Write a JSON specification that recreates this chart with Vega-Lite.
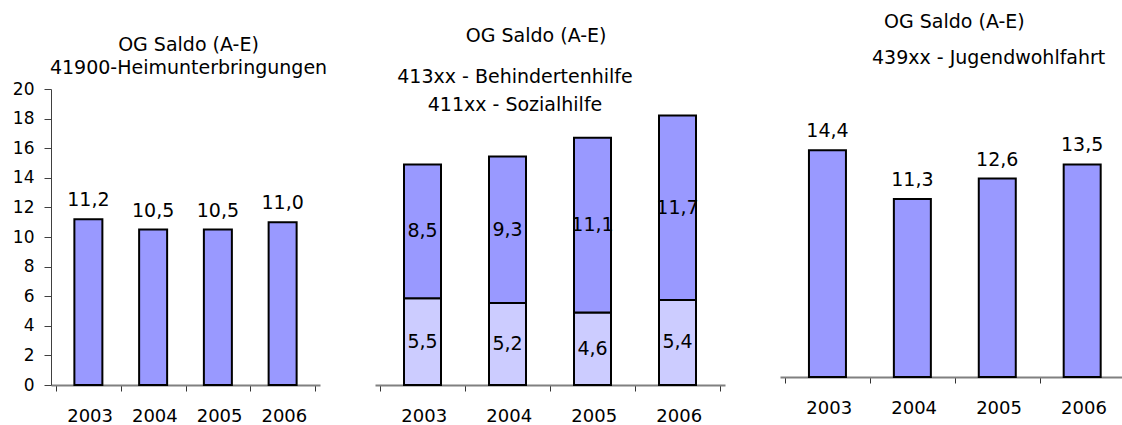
{
  "$schema": "https://vega.github.io/schema/vega-lite/v6.json",
  "background": "white",
  "padding": {"left": 12, "top": 13, "right": 0, "bottom": 0},
  "bounds": "flush",
  "align": "each",
  "spacing": 55,
  "config": {
    "font": "DejaVu Sans",
    "view": {"stroke": null},
    "locale": {"number": {"decimal": ",", "thousands": ".", "grouping": [3], "currency": ["", " €"]}},
    "axis": {"labelColor": "black", "grid": false, "title": null}
  },
  "datasets": {
    "heim": [
      {"year": 2003, "value": 11.2},
      {"year": 2004, "value": 10.5},
      {"year": 2005, "value": 10.5},
      {"year": 2006, "value": 11.0}
    ],
    "soz": [
      {"year": 2003, "part": "411xx - Sozialhilfe", "value": 5.5},
      {"year": 2003, "part": "413xx - Behindertenhilfe", "value": 8.5},
      {"year": 2004, "part": "411xx - Sozialhilfe", "value": 5.2},
      {"year": 2004, "part": "413xx - Behindertenhilfe", "value": 9.3},
      {"year": 2005, "part": "411xx - Sozialhilfe", "value": 4.6},
      {"year": 2005, "part": "413xx - Behindertenhilfe", "value": 11.1},
      {"year": 2006, "part": "411xx - Sozialhilfe", "value": 5.4},
      {"year": 2006, "part": "413xx - Behindertenhilfe", "value": 11.7}
    ],
    "jugend": [
      {"year": 2003, "value": 14.4},
      {"year": 2004, "value": 11.3},
      {"year": 2005, "value": 12.6},
      {"year": 2006, "value": 13.5}
    ]
  },
  "hconcat": [
    {
      "width": 269,
      "height": 296,
      "title": {
        "text": "OG Saldo (A-E)",
        "subtitle": "41900-Heimunterbringungen",
        "frame": "group",
        "anchor": "middle",
        "dx": 3,
        "offset": 2,
        "fontSize": 19,
        "fontWeight": "normal",
        "color": "black",
        "subtitleFontSize": 19,
        "subtitleColor": "black",
        "subtitlePadding": 4
      },
      "data": {"name": "heim"},
      "encoding": {
        "x": {
          "field": "year", "type": "quantitative",
          "scale": {"domain": [2002.5, 2006.5], "nice": false, "zero": false},
          "axis": {
            "values": [2002.5, 2003.5, 2004.5, 2005.5, 2006.5],
            "labelExpr": "datum.value < 2006 ? '' + (datum.value + 0.5) : ''",
            "labelOffset": 33.6,
            "labelFlush": false,
            "labelOverlap": false,
            "labelFontSize": 18,
            "labelPadding": 16,
            "domainColor": "#808080",
            "domainWidth": 2,
            "tickColor": "#333333",
            "tickSize": 6,
            "tickWidth": 1
          }
        },
        "y": {
          "field": "value", "type": "quantitative",
          "scale": {"domain": [0, 20], "nice": false},
          "axis": {
            "values": [0, 2, 4, 6, 8, 10, 12, 14, 16, 18, 20],
            "format": "d",
            "labelFontSize": 17,
            "labelPadding": 10,
            "labelFlush": false,
            "labelOverlap": false,
            "domainColor": "#404040",
            "domainWidth": 1,
            "tickColor": "#404040",
            "tickSize": 7
          }
        }
      },
      "layer": [
        {
          "mark": {"type": "bar", "width": 28, "fill": "#9999FF", "stroke": "black", "strokeWidth": 2}
        },
        {
          "mark": {"type": "text", "baseline": "alphabetic", "dy": -13, "fontSize": 19, "color": "black"},
          "encoding": {
            "text": {"field": "value", "type": "quantitative", "format": ".1f"}
          }
        }
      ]
    },
    {
      "width": 350,
      "height": 296,
      "title": {
        "text": "\u200b\u00a0\u00a0\u00a0\u00a0\u00a0\u00a0\u00a0OG Saldo (A-E)",
        "subtitle": ["413xx - Behindertenhilfe", "411xx - Sozialhilfe"],
        "frame": "group",
        "anchor": "middle",
        "dx": -35,
        "offset": -26,
        "fontSize": 19,
        "fontWeight": "normal",
        "color": "black",
        "subtitleFontSize": 19,
        "subtitleColor": "black",
        "subtitleLineHeight": 28,
        "subtitlePadding": 22
      },
      "data": {"name": "soz"},
      "encoding": {
        "x": {
          "field": "year", "type": "quantitative",
          "scale": {"domain": [2002.5, 2006.5], "nice": false, "zero": false},
          "axis": {
            "values": [2002.5, 2003.5, 2004.5, 2005.5, 2006.5],
            "labelExpr": "datum.value < 2006 ? '' + (datum.value + 0.5) : ''",
            "labelOffset": 43.75,
            "labelFlush": false,
            "labelOverlap": false,
            "labelFontSize": 18,
            "labelPadding": 16,
            "domainColor": "#808080",
            "domainWidth": 2,
            "tickColor": "#333333",
            "tickSize": 6,
            "tickWidth": 1
          }
        },
        "order": {"field": "part", "sort": "ascending"}
      },
      "layer": [
        {
          "mark": {"type": "bar", "width": 37, "stroke": "black", "strokeWidth": 2},
          "encoding": {
            "y": {
              "field": "value", "type": "quantitative", "stack": "zero",
              "scale": {"domain": [0, 18.79], "nice": false},
              "axis": null
            },
            "color": {
              "field": "part", "type": "nominal",
              "scale": {"domain": ["411xx - Sozialhilfe", "413xx - Behindertenhilfe"], "range": ["#CCCCFF", "#9999FF"]},
              "legend": null
            }
          }
        },
        {
          "mark": {"type": "text", "baseline": "middle", "fontSize": 19, "color": "black"},
          "encoding": {
            "y": {"field": "value", "type": "quantitative", "stack": "zero", "bandPosition": 0.5, "axis": null},
            "detail": {"field": "part", "type": "nominal"},
            "text": {"field": "value", "type": "quantitative", "format": ".1f"}
          }
        }
      ]
    },
    {
      "width": 342,
      "height": 288,
      "title": {
        "text": "\u200b\u00a0\u00a0OG Saldo (A-E)",
        "subtitle": "439xx - Jugendwohlfahrt",
        "frame": "group",
        "anchor": "start",
        "dx": 92,
        "offset": 21,
        "fontSize": 19,
        "fontWeight": "normal",
        "color": "black",
        "subtitleFontSize": 19,
        "subtitleColor": "black",
        "subtitlePadding": 17
      },
      "data": {"name": "jugend"},
      "encoding": {
        "x": {
          "field": "year", "type": "quantitative",
          "scale": {"domain": [2002.5, 2006.41], "nice": false, "zero": false},
          "axis": {
            "values": [2002.5, 2003.5, 2004.5, 2005.5],
            "labelExpr": "'' + (datum.value + 0.5)",
            "labelOffset": 43.75,
            "labelFlush": false,
            "labelOverlap": false,
            "labelFontSize": 18,
            "labelPadding": 16,
            "domainColor": "#808080",
            "domainWidth": 2,
            "tickColor": "#333333",
            "tickSize": 6,
            "tickWidth": 1
          }
        },
        "y": {
          "field": "value", "type": "quantitative",
          "scale": {"domain": [0, 18.29], "nice": false},
          "axis": null
        }
      },
      "layer": [
        {
          "mark": {"type": "bar", "width": 37, "fill": "#9999FF", "stroke": "black", "strokeWidth": 2}
        },
        {
          "mark": {"type": "text", "baseline": "alphabetic", "dy": -13, "fontSize": 19, "color": "black"},
          "encoding": {
            "text": {"field": "value", "type": "quantitative", "format": ".1f"}
          }
        }
      ]
    }
  ]
}
